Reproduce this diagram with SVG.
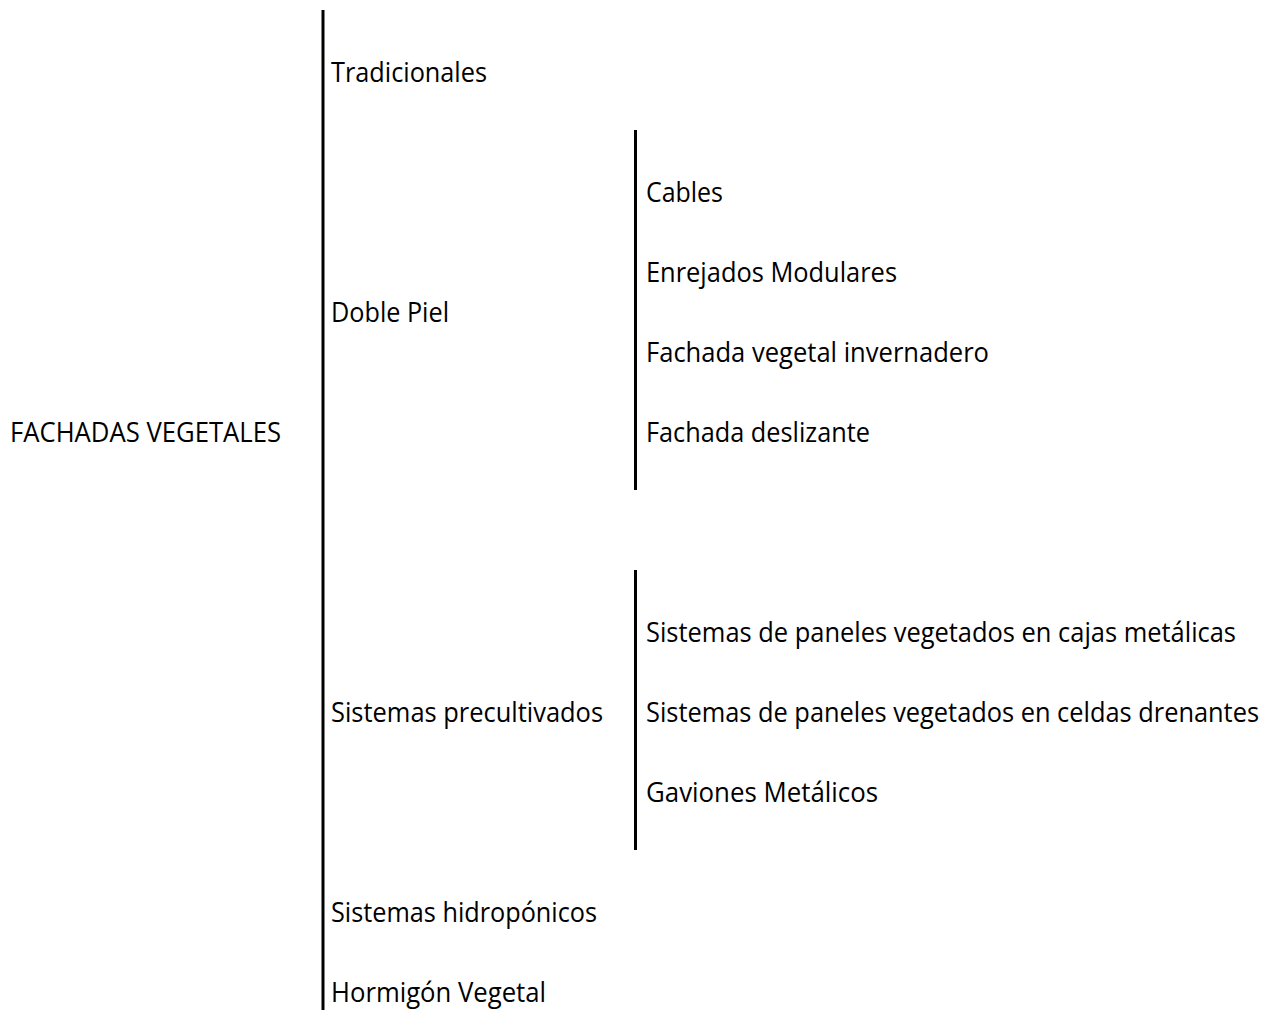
<svg xmlns="http://www.w3.org/2000/svg" width="1280" height="1010" viewBox="0 0 1280 1010">
<style>
text{font-family:"Open Sans","Liberation Sans",sans-serif;font-size:26.5px;fill:#000}
.bar{stroke:#000;stroke-width:3;fill:none}
</style>
<rect width="1280" height="1010" fill="#fff"/>
<g id="connectors">
<line class="bar" x1="323" y1="10" x2="323" y2="1010"/>
<line class="bar" x1="635.5" y1="130" x2="635.5" y2="490"/>
<line class="bar" x1="635.5" y1="570" x2="635.5" y2="850"/>
</g>
<g id="root"><text x="10" y="441.5" textLength="271" lengthAdjust="spacingAndGlyphs">FACHADAS VEGETALES</text></g>
<g id="tradicionales"><text x="331" y="81.5" textLength="156" lengthAdjust="spacingAndGlyphs">Tradicionales</text></g>
<g id="doble-piel"><text x="331" y="321.5" textLength="118" lengthAdjust="spacingAndGlyphs">Doble Piel</text></g>
<g id="cables"><text x="646" y="201.5" textLength="77" lengthAdjust="spacingAndGlyphs">Cables</text></g>
<g id="enrejados"><text x="646" y="281.5" textLength="251" lengthAdjust="spacingAndGlyphs">Enrejados Modulares</text></g>
<g id="invernadero"><text x="646" y="361.5" textLength="343" lengthAdjust="spacingAndGlyphs">Fachada vegetal invernadero</text></g>
<g id="deslizante"><text x="646" y="441.5" textLength="224" lengthAdjust="spacingAndGlyphs">Fachada deslizante</text></g>
<g id="precultivados"><text x="331" y="721.5" textLength="272" lengthAdjust="spacingAndGlyphs">Sistemas precultivados</text></g>
<g id="cajas"><text x="646" y="641.5" textLength="590" lengthAdjust="spacingAndGlyphs">Sistemas de paneles vegetados en cajas metálicas</text></g>
<g id="celdas"><text x="646" y="721.5" textLength="613" lengthAdjust="spacingAndGlyphs">Sistemas de paneles vegetados en celdas drenantes</text></g>
<g id="gaviones"><text x="646" y="801.5" textLength="232" lengthAdjust="spacingAndGlyphs">Gaviones Metálicos</text></g>
<g id="hidroponicos"><text x="331" y="921.5" textLength="266" lengthAdjust="spacingAndGlyphs">Sistemas hidropónicos</text></g>
<g id="hormigon"><text x="331" y="1001.5" textLength="215" lengthAdjust="spacingAndGlyphs">Hormigón Vegetal</text></g>
</svg>
